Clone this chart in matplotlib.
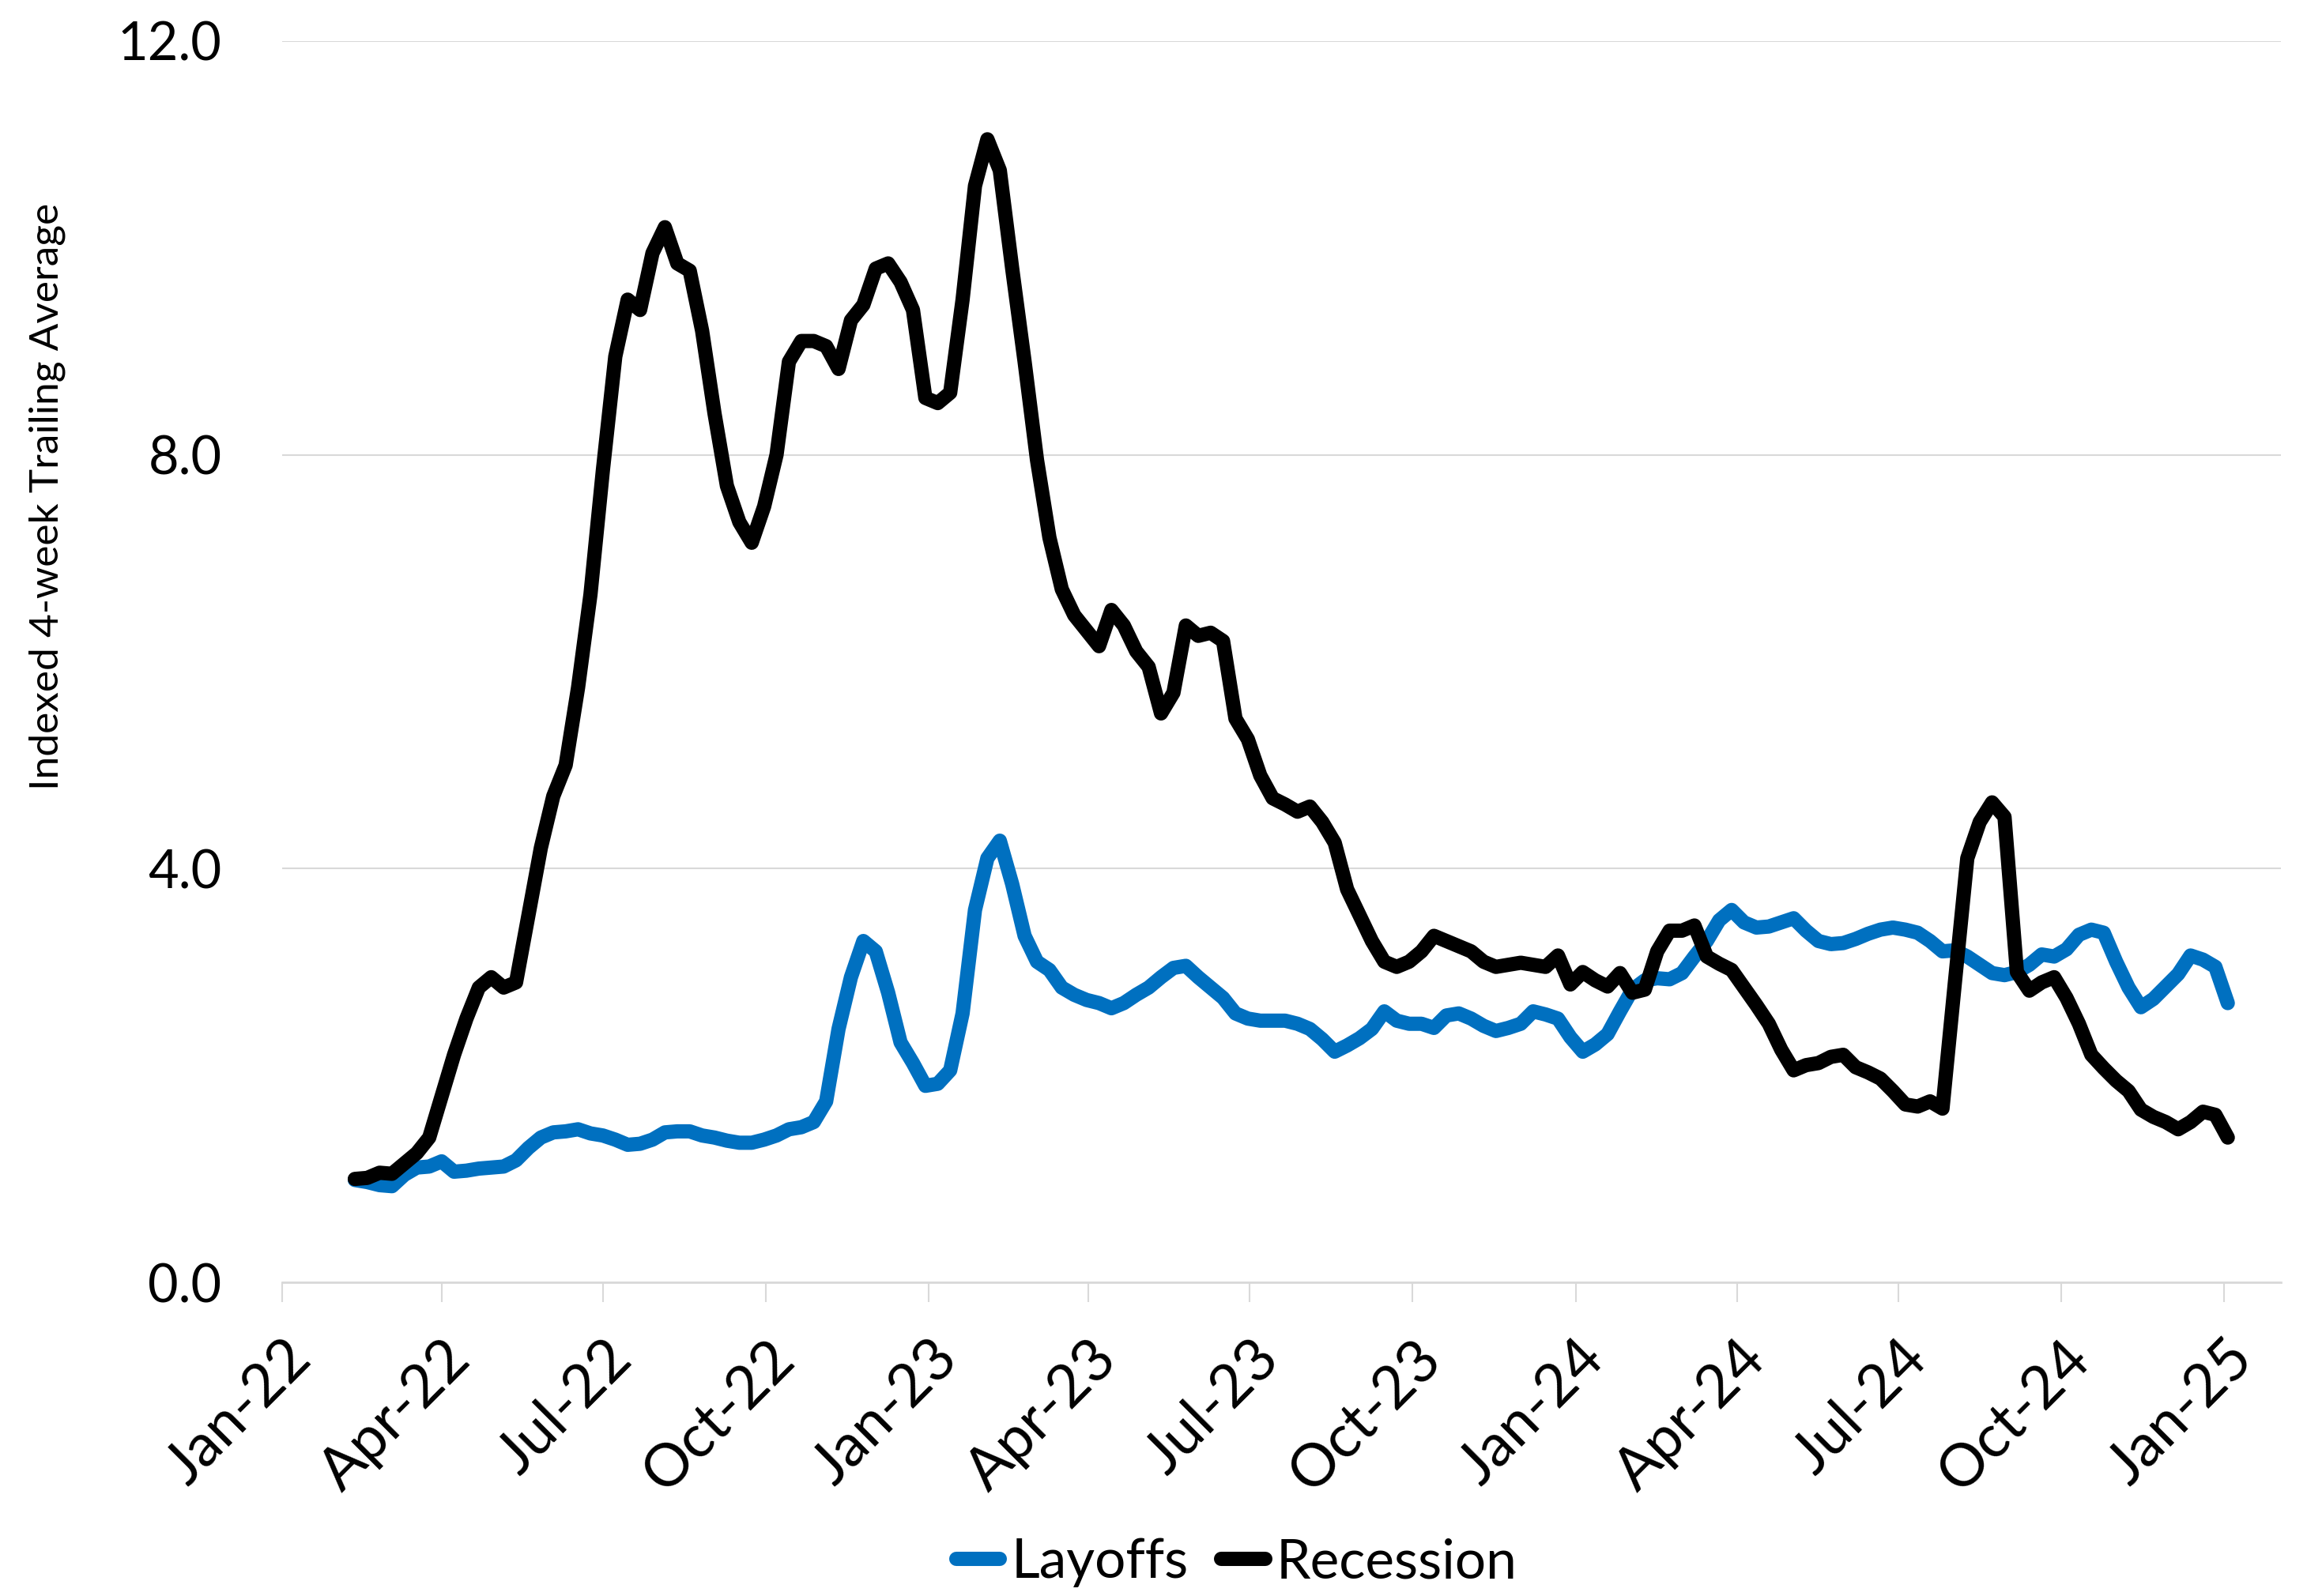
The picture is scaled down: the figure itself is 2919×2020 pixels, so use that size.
import numpy as np
import pandas as pd
import matplotlib
matplotlib.use("Agg")
import matplotlib.pyplot as plt
import matplotlib.dates as mdates
from matplotlib.transforms import ScaledTranslation

plt.rcParams["font.family"] = ["Lato", "DejaVu Sans"]

# weekly index values, first week ending ~11 Feb 2022
start_date = "2022-02-11"
layoffs = [
    0.99, 0.97, 0.94, 0.93, 1.04, 1.11, 1.12, 1.17, 1.07, 1.08,
    1.10, 1.11, 1.12, 1.18, 1.30, 1.40, 1.45, 1.46, 1.48, 1.44,
    1.42, 1.38, 1.33, 1.34, 1.38, 1.45, 1.46, 1.46, 1.42, 1.40,
    1.37, 1.35, 1.35, 1.38, 1.42, 1.48, 1.50, 1.55, 1.75, 2.45,
    2.95, 3.30, 3.20, 2.80, 2.32, 2.12, 1.90, 1.92, 2.05, 2.60,
    3.60, 4.10, 4.27, 3.85, 3.35, 3.10, 3.02, 2.85, 2.78, 2.73,
    2.70, 2.65, 2.70, 2.78, 2.85, 2.95, 3.04, 3.06, 2.95, 2.85,
    2.75, 2.60, 2.55, 2.53, 2.53, 2.53, 2.50, 2.45, 2.35, 2.23,
    2.29, 2.36, 2.45, 2.62, 2.53, 2.50, 2.50, 2.46, 2.58, 2.60,
    2.55, 2.48, 2.43, 2.46, 2.50, 2.62, 2.59, 2.55, 2.37, 2.23,
    2.30, 2.40, 2.62, 2.83, 2.92, 2.94, 2.93, 2.99, 3.15, 3.30,
    3.50, 3.60, 3.48, 3.43, 3.44, 3.48, 3.52, 3.40, 3.30, 3.27,
    3.28, 3.32, 3.37, 3.41, 3.43, 3.41, 3.38, 3.30, 3.20, 3.21,
    3.15, 3.07, 2.99, 2.97, 3.00, 3.07, 3.17, 3.15, 3.22, 3.36,
    3.41, 3.38, 3.10, 2.85, 2.66, 2.74, 2.86, 2.98, 3.16, 3.12,
    3.05, 2.70,
]
recession = [
    1.00, 1.01, 1.06, 1.05, 1.15, 1.25, 1.40, 1.80, 2.20, 2.55,
    2.85, 2.95, 2.85, 2.90, 3.55, 4.20, 4.70, 5.00, 5.75, 6.65,
    7.85, 8.95, 9.50, 9.40, 9.95, 10.20, 9.85, 9.78, 9.20, 8.40,
    7.70, 7.35, 7.15, 7.50, 8.00, 8.90, 9.10, 9.10, 9.05, 8.83,
    9.30, 9.45, 9.80, 9.85, 9.67, 9.40, 8.55, 8.50, 8.60, 9.50,
    10.60, 11.05, 10.75, 9.80, 8.90, 7.95, 7.20, 6.70, 6.45, 6.30,
    6.15, 6.50, 6.35, 6.10, 5.95, 5.50, 5.70, 6.35, 6.25, 6.28,
    6.20, 5.45, 5.25, 4.90, 4.68, 4.62, 4.55, 4.60, 4.45, 4.25,
    3.80, 3.55, 3.30, 3.10, 3.05, 3.10, 3.20, 3.35, 3.30, 3.25,
    3.20, 3.10, 3.05, 3.07, 3.09, 3.07, 3.05, 3.16, 2.88, 3.00,
    2.92, 2.86, 2.99, 2.80, 2.83, 3.20, 3.40, 3.40, 3.45, 3.15,
    3.08, 3.02, 2.85, 2.68, 2.50, 2.25, 2.05, 2.10, 2.12, 2.18,
    2.20, 2.08, 2.03, 1.97, 1.85, 1.72, 1.70, 1.75, 1.68, 2.90,
    4.10, 4.45, 4.64, 4.50, 3.00, 2.82, 2.90, 2.95, 2.75, 2.50,
    2.20, 2.07, 1.95, 1.85, 1.67, 1.60, 1.55, 1.48, 1.55, 1.65,
    1.62, 1.40,
]
series_names = ["Layoffs", "Recession"]
series_colors = ["#0070C0", "#000000"]
y_ticks = [0.0, 4.0, 8.0, 12.0]

dates = pd.date_range(start_date, periods=len(layoffs), freq="7D")

fig = plt.figure(figsize=(29.19, 20.20), dpi=100)
ax = fig.add_axes([0.1223, 0.1965, 0.8664, 0.7778])

for vals, name, col in zip([layoffs, recession], series_names, series_colors):
    ax.plot(dates, vals, color=col, lw=13, label=name,
            solid_joinstyle="round", solid_capstyle="round")

ax.set_ylim(0, 12)
ax.set_yticks(y_ticks)
ax.yaxis.set_major_formatter(matplotlib.ticker.FormatStrFormatter("%.1f"))
ax.grid(axis="y", color="#d9d9d9", lw=1.5)
ax.set_axisbelow(True)
ax.set_xlim(pd.Timestamp("2022-01-01"), pd.Timestamp("2025-02-02"))
ax.xaxis.set_major_locator(mdates.MonthLocator(bymonth=[1, 4, 7, 10]))
ax.xaxis.set_major_formatter(mdates.DateFormatter("%b-%y"))

for s in ["top", "right", "left"]:
    ax.spines[s].set_visible(False)
ax.spines["bottom"].set_color("#d9d9d9")
ax.spines["bottom"].set_linewidth(2)

ax.tick_params(axis="y", length=0, pad=55, labelsize=48, labelcolor="black")
ax.tick_params(axis="x", length=18, width=1.5, color="#d9d9d9",
               labelsize=54, pad=10, labelcolor="black")
off = ScaledTranslation(0.0, -0.22, fig.dpi_scale_trans)
for lab in ax.get_xticklabels():
    lab.set_rotation(45)
    lab.set_ha("right")
    lab.set_va("top")
    lab.set_rotation_mode("anchor")
    lab.set_transform(lab.get_transform() + off)

fig.text(0.0205, 0.689, "Indexed 4-week Trailing Average", rotation=90,
         ha="center", va="center", fontsize=37, color="black")

fig.legend(loc="center", bbox_to_anchor=(0.536, 0.021), ncol=2, frameon=False,
           handlelength=0.8, handletextpad=0.2, columnspacing=0.6,
           prop={"size": 50})

fig.savefig("out.png", dpi=100)
